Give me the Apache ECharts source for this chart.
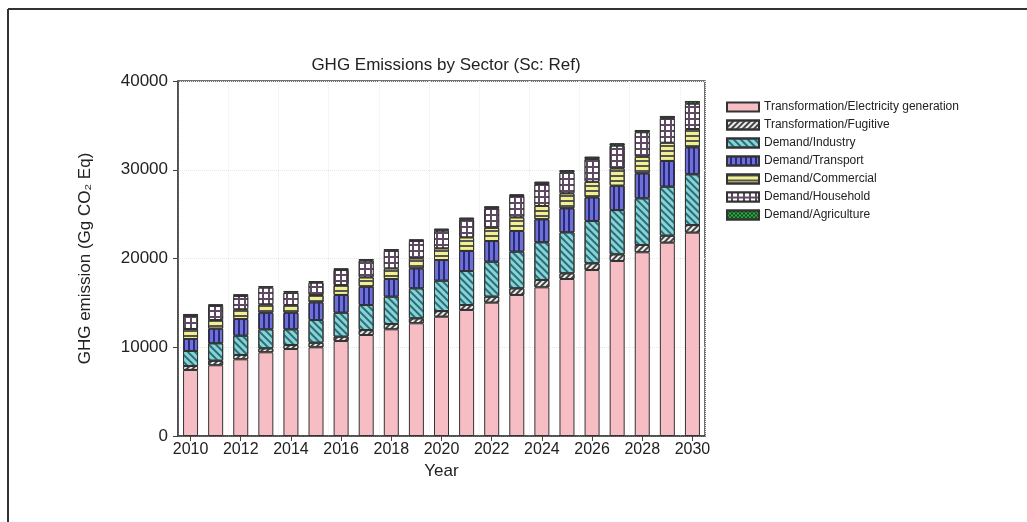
<!DOCTYPE html>
<html>
<head>
<meta charset="utf-8">
<script src="https://cdn.jsdelivr.net/npm/echarts@6/dist/echarts.min.js"></script>
<style>
html,body{margin:0;padding:0;background:#fff;}
#chart{width:1027px;height:522px;}
</style>
</head>
<body>
<div id="chart"></div>
<script>
const years = ['2010','2011','2012','2013','2014','2015','2016','2017','2018','2019','2020','2021','2022','2023','2024','2025','2026','2027','2028','2029','2030'];
const elecGen = [7440,7970,8640,9430,9800,9990,10700,11380,12020,12700,13440,14200,15020,15890,16750,17690,18700,19720,20700,21780,22910];
const fugitive = [450,510,490,450,450,520,490,560,600,560,640,560,680,750,830,640,760,750,820,790,860];
const industry = [1690,1970,2170,2140,1770,2560,2700,2820,3080,3380,3420,3830,3940,4130,4250,4620,4770,4990,5260,5520,5720];
const transport = [1350,1640,1880,1870,1870,1990,2000,2060,1990,2250,2330,2260,2330,2330,2590,2710,2660,2740,2820,2900,3040];
const commercial = [1130,980,1100,950,870,830,1120,1060,1200,1130,1320,1540,1500,1540,1500,1690,1760,1960,1870,2060,2060];
const household = [1460,1580,1490,1870,1390,1380,1690,1870,1990,1950,1980,2020,2190,2400,2470,2360,2560,2550,2750,2750,2850];
const agriculture = [230,190,200,190,190,190,190,190,190,190,230,190,220,190,260,260,260,270,260,260,310];
const seriesNames = ['Transformation/Electricity generation','Transformation/Fugitive','Demand/Industry','Demand/Transport','Demand/Commercial','Demand/Household','Demand/Agriculture'];
const yTicks = [0,10000,20000,30000,40000];

const FONT = 'Liberation Sans, Arial, sans-serif';
const styles = [
  {color:'#F6BEC4', decal:null},
  {color:'#EDEDED', decal:{symbol:'rect',symbolSize:1,dashArrayX:[1,0],dashArrayY:[2,2],rotation:-Math.PI/4,color:'#444'}},
  {color:'#86D3D8', decal:{symbol:'rect',symbolSize:1,dashArrayX:[1,0],dashArrayY:[1.5,2.5],rotation:Math.PI/4,color:'#2C6C74'}},
  {color:'#6E70D8', decal:{symbol:'rect',symbolSize:1,dashArrayX:[1,0],dashArrayY:[1.2,3],rotation:Math.PI/2,color:'#2A2A7A'}},
  {color:'#F3F08E', decal:{symbol:'rect',symbolSize:1,dashArrayX:[1,0],dashArrayY:[1.2,2.8],rotation:0,color:'#555'}},
  {color:'#5E4862', decal:{symbol:'rect',symbolSize:1,dashArrayX:[3.5,1.2],dashArrayY:[3.5,1.2],rotation:0,color:'#FFFFFF'}},
  {color:'#39A84A', decal:{symbol:'rect',symbolSize:1,dashArrayX:[[1.5,1.5],[0,1.5,1.5,0]],dashArrayY:[1.5,0],rotation:0,color:'#0E4A1A'}}
];
const values = [elecGen,fugitive,industry,transport,commercial,household,agriculture];

const chart = echarts.init(document.getElementById('chart'), null, {renderer:'canvas'});
chart.setOption({
  backgroundColor:'#fff',
  animation:false,
  title:{text:'GHG Emissions by Sector (Sc: Ref)', left:441, top:52, textAlign:'center',
    textStyle:{fontFamily:FONT,fontSize:17,fontWeight:'normal',color:'#222'}},
  legend:{orient:'vertical', left:721, top:95, itemWidth:32, itemHeight:9, itemGap:4, icon:'rect',
    textStyle:{fontFamily:FONT,fontSize:12,color:'#222',lineHeight:14}, data:seriesNames},
  grid:{left:178, top:81, width:527, height:355, show:true, borderColor:'#444', borderWidth:1.5, backgroundColor:'transparent'},
  xAxis:{type:'category', data:years, boundaryGap:true,
    name:'Year', nameLocation:'middle', nameGap:20,
    nameTextStyle:{fontFamily:FONT,fontSize:17,color:'#222'},
    axisLine:{lineStyle:{color:'#444',width:1.5}},
    axisTick:{show:true, interval:1, alignWithLabel:true, length:5, lineStyle:{color:'#444'}},
    axisLabel:{interval:1, fontFamily:FONT, fontSize:16, color:'#222', margin:6},
    splitLine:{show:true, interval:1, lineStyle:{color:'#ececec', type:'dotted'}}
  },
  yAxis:{type:'value', min:yTicks[0], max:yTicks[yTicks.length-1], interval:10000,
    name:'GHG emission (Gg CO\u2082 Eq)', nameLocation:'middle', nameGap:84, nameRotate:90,
    nameTextStyle:{fontFamily:FONT,fontSize:17,color:'#222'},
    axisLine:{show:true,lineStyle:{color:'#444',width:1.5}},
    axisTick:{show:true, inside:false, length:5, lineStyle:{color:'#444'}},
    axisLabel:{fontFamily:FONT, fontSize:17, color:'#222', margin:10, formatter:(v)=>String(v)},
    splitLine:{show:true, lineStyle:{color:'#e6e6e6', type:'dotted'}}
  },
  series: seriesNames.map((n,i)=>{
    const it = {color:styles[i].color, borderColor:'#333', borderWidth:1};
    if (styles[i].decal) it.decal = styles[i].decal;
    return {name:n, type:'bar', stack:'total', barWidth:15, data:values[i], itemStyle:it};
  }),
  graphic:[
    {type:'line', shape:{x1:8,y1:9,x2:1027,y2:9}, style:{stroke:'#333',lineWidth:2}},
    {type:'line', shape:{x1:8,y1:9,x2:8,y2:522}, style:{stroke:'#333',lineWidth:2}}
  ]
});
</script>
</body>
</html>
